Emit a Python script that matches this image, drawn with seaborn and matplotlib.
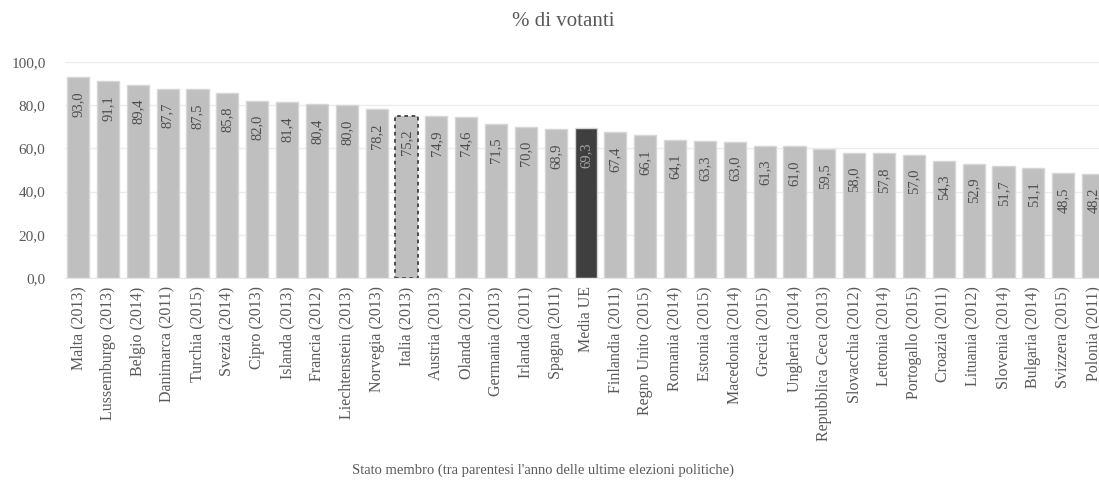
import numpy as np
import pandas as pd
import matplotlib
matplotlib.use("Agg")
import matplotlib.pyplot as plt
import seaborn as sns

# Data
paesi = ["Malta (2013)", "Lussemburgo (2013)", "Belgio (2014)", "Danimarca (2011)",
         "Turchia (2015)", "Svezia (2014)", "Cipro (2013)", "Islanda (2013)",
         "Francia (2012)", "Liechtenstein (2013)", "Norvegia (2013)", "Italia (2013)",
         "Austria (2013)", "Olanda (2012)", "Germania (2013)", "Irlanda (2011)",
         "Spagna (2011)", "Media UE", "Finlandia (2011)", "Regno Unito (2015)",
         "Romania (2014)", "Estonia (2015)", "Macedonia (2014)", "Grecia (2015)",
         "Ungheria (2014)", "Repubblica Ceca (2013)", "Slovacchia (2012)", "Lettonia (2014)",
         "Portogallo (2015)", "Croazia (2011)", "Lituania (2012)", "Slovenia (2014)",
         "Bulgaria (2014)", "Svizzera (2015)", "Polonia (2011)"]
votanti = [93.0, 91.1, 89.4, 87.7, 87.5, 85.8, 82.0, 81.4, 80.4, 80.0, 78.2, 75.2,
           74.9, 74.6, 71.5, 70.0, 68.9, 69.3, 67.4, 66.1, 64.1, 63.3, 63.0, 61.3,
           61.0, 59.5, 58.0, 57.8, 57.0, 54.3, 52.9, 51.7, 51.1, 48.5, 48.2]
media_label = "Media UE"
italia_label = "Italia (2013)"

df = pd.DataFrame({"Paese": paesi, "Votanti": votanti})

sns.set_style("white")
plt.rcParams['font.family'] = ['Liberation Serif', 'DejaVu Serif']

fig = plt.figure(figsize=(10.99, 4.82), dpi=100)
ax = fig.add_axes([65 / 1099, (482 - 278) / 482, (1099 - 65) / 1099, 216 / 482])

colori = ['#3f3f3f' if p == media_label else '#bfbfbf' for p in paesi]
sns.barplot(data=df, x="Paese", y="Votanti", hue="Paese", palette=colori,
            legend=False, width=0.74, ax=ax, zorder=2)

for i, patch in enumerate(ax.patches):
    patch.set_edgecolor('#d6d6d6')
    patch.set_linewidth(1.0)
    if paesi[i] == italia_label:
        patch.set_edgecolor('#404040')
        patch.set_linestyle((0, (2, 2)))
        patch.set_linewidth(1.3)

# value labels inside the bars
for i, v in enumerate(votanti):
    col = '#a6a6a6' if paesi[i] == media_label else '#4d4d4d'
    ax.text(i, v - 6.5, f"{v:.1f}".replace('.', ','), rotation=90, ha='center',
            va='top', fontsize=10.5, color=col)

ax.set_ylim(0, 100)
ax.set_xlim(-0.44, 34.2)
ax.set_yticks(np.arange(0, 101, 20))
ax.set_yticklabels([f"{t:.1f}".replace('.', ',') for t in np.arange(0, 101, 20)],
                   fontsize=11, color='#595959')
ax.tick_params(axis='y', length=0, pad=14)
ax.tick_params(axis='x', length=0, pad=6)
ax.set_xticks(range(len(paesi)))
ax.set_xticklabels(paesi, rotation=90, fontsize=11.5, color='#595959')
ax.yaxis.grid(True, color='#ececec', linewidth=1, zorder=0)
ax.set_axisbelow(True)
for s in ['top', 'right', 'left']:
    ax.spines[s].set_visible(False)
ax.spines['bottom'].set_color('#e6e6e6')

ax.set_ylabel("")
ax.set_xlabel("Stato membro (tra parentesi l'anno delle ultime elezioni politiche)",
              fontsize=10.5, color='#595959')
ax.xaxis.set_label_coords((543 - 65) / 1034, -(470 - 278) / 216)
ax.xaxis.label.set_va('center')

fig.text(563 / 1099, 1 - 22 / 482, "% di votanti", ha='center', va='center',
         fontsize=15, color='#595959')

plt.savefig("out.png", dpi=100)
